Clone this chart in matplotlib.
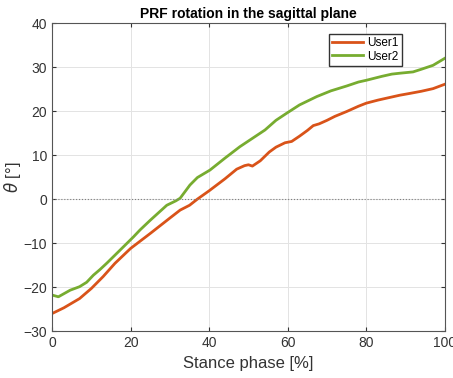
import numpy as np
import matplotlib.pyplot as plt

# stance phase [%] and rotation angles [deg]
x1 = [0, 3, 7, 10, 13, 16, 20, 25, 30, 32.6, 35, 37, 40, 44, 47, 49, 50, 51, 53, 55.3, 57, 59.3, 61, 63, 65, 66.5, 68, 70, 72, 75, 78, 80, 83, 86, 88.5, 91, 94, 97, 100]
y1 = [-26, -24.7, -22.6, -20.3, -17.6, -14.6, -11.2, -7.8, -4.3, -2.5, -1.4, 0, 1.9, 4.6, 6.8, 7.6, 7.8, 7.5, 8.7, 10.7, 11.8, 12.8, 13.1, 14.3, 15.6, 16.7, 17.1, 17.9, 18.8, 19.9, 21.1, 21.8, 22.5, 23.1, 23.6, 24.0, 24.5, 25.1, 26.1]

x2 = [0, 1.6, 4.6, 7, 8.8, 10.5, 12.2, 14, 17.3, 20.7, 22.4, 25, 29.2, 31.5, 32.6, 35.1, 37, 40.2, 44, 47.8, 51, 54.2, 57, 59.7, 63, 67.4, 71, 75, 78, 80, 84, 86.5, 88.5, 91.9, 94, 97, 100]
y2 = [-21.8, -22.2, -20.7, -19.9, -18.9, -17.3, -16.0, -14.5, -11.6, -8.6, -7.0, -4.8, -1.4, -0.4, 0.2, 3.2, 4.9, 6.6, 9.3, 11.9, 13.8, 15.7, 17.9, 19.5, 21.4, 23.3, 24.6, 25.7, 26.6, 27.0, 27.9, 28.4, 28.6, 28.9, 29.5, 30.4, 32.0]

plt.rcParams['font.family'] = ['Liberation Sans', 'DejaVu Sans']
fig = plt.figure(figsize=(4.53, 3.78), dpi=100)
ax = fig.add_axes([0.115, 0.124, 0.867, 0.815])

ax.plot(x1, y1, color='#D95319', lw=2, label='User1')
ax.plot(x2, y2, color='#77AC30', lw=2, label='User2')
ax.axhline(0, color='#808080', lw=0.8, ls=':')

ax.set_xlim(0, 100)
ax.set_ylim(-30, 40)
ax.set_xticks([0, 20, 40, 60, 80, 100])
ax.set_yticks([-30, -20, -10, 0, 10, 20, 30, 40])
ax.grid(True, color='#e3e3e3', lw=0.7)
ax.set_axisbelow(True)
ax.tick_params(direction='in', top=True, right=True, labelsize=10, colors='#333333', length=3)
for s in ax.spines.values():
    s.set_color('#555555')
    s.set_linewidth(0.8)

ax.set_title('PRF rotation in the sagittal plane', fontsize=10, fontweight='bold', pad=4)
ax.set_xlabel('Stance phase [%]', fontsize=12, color='#333333')
ax.set_ylabel(r'$\theta$ [°]', fontsize=12, color='#333333', labelpad=0)

ax.legend(loc='upper right', bbox_to_anchor=(0.89, 0.965), fontsize=8.5, fancybox=False,
          edgecolor='#333333', framealpha=1, handlelength=2.6, handletextpad=0.4,
          borderpad=0.25, labelspacing=0.15, borderaxespad=0)

fig.savefig('out.png', dpi=100)
